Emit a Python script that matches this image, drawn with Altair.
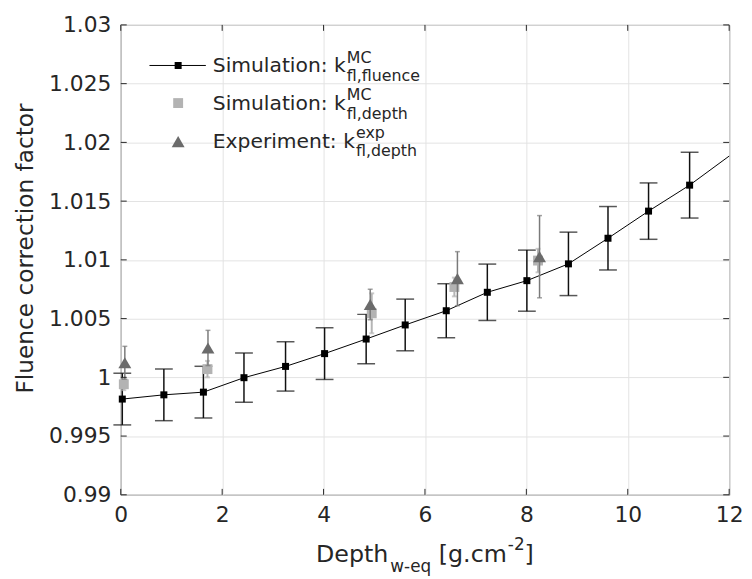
import altair as alt
import pandas as pd

# ---------------- data ----------------
depth_mc = [0.03, 0.85, 1.63, 2.43, 3.25, 4.02, 4.84, 5.61, 6.42, 7.23, 8.01, 8.83, 9.61, 10.41, 11.22, 12.02]
k_fluence = [0.99815, 0.99851, 0.99874, 0.99997, 1.00093, 1.00202, 1.00326, 1.00446, 1.00567,
             1.00724, 1.00823, 1.00966, 1.01184, 1.01415, 1.01636, 1.0189]
k_fluence_err = [0.0022, 0.0022, 0.0022, 0.0021, 0.0021, 0.0022, 0.0021, 0.0022, 0.0023,
                 0.0024, 0.0026, 0.0027, 0.0027, 0.0024, 0.0028, 0.0028]

depth_sim = [0.06, 1.71, 4.95, 6.58, 8.23]
k_depth = [0.99941, 1.00070, 1.00545, 1.00769, 1.00994]
k_depth_err = [0.0005, 0.0007, 0.0017, 0.0008, 0.0010]

depth_exp = [0.08, 1.72, 4.92, 6.64, 8.26]
k_exp = [1.00124, 1.00250, 1.00620, 1.00840, 1.01027]
k_exp_err = [0.0014, 0.0015, 0.0013, 0.0023, 0.0035]

x_ticks = [0, 2, 4, 6, 8, 10, 12]
y_ticks = [0.99, 0.995, 1.0, 1.005, 1.01, 1.015, 1.02, 1.025, 1.03]

# ---------------- style ----------------
FONT = "DejaVu Sans"
TXT = "#262626"
W, H = 615, 475

EM = {' ': .318, '[': .390, ']': .390, '.': .318, ',': .318, ':': .337, '-': .361, '2': .636,
      'D': .770, 'E': .632, 'S': .635, 'M': .863, 'C': .698,
      'a': .613, 'c': .550, 'd': .635, 'e': .615, 'f': .352, 'g': .635, 'h': .634, 'i': .278,
      'k': .579, 'l': .278, 'm': .974, 'n': .634, 'o': .612, 'p': .635, 'q': .635, 'r': .411,
      't': .392, 'u': .634, 'w': .818, 'x': .592}


def tw(s, size):
    return sum(EM.get(c, 0.6) for c in s) * size


xs = alt.Scale(domain=[0, 12], nice=False, zero=False)
ys = alt.Scale(domain=[0.99, 1.03], nice=False, zero=False)
xax = alt.Axis(values=x_ticks, title=None, ticks=False, domain=False, grid=True,
               gridColor="#e3e3e3", gridWidth=1, labelFont=FONT, labelFontSize=22,
               labelColor=TXT, labelPadding=10, format="d", labelFlush=False,
               labelOverlap=False, labelBound=False)
yax = alt.Axis(values=y_ticks, title=None, ticks=False, domain=False, grid=True,
               gridColor="#e3e3e3", gridWidth=1, labelFont=FONT, labelFontSize=22,
               labelColor=TXT, labelPadding=10, format=".3~f", labelFlush=False,
               labelOverlap=False, labelBound=False)

mc = pd.DataFrame({"x": depth_mc, "y": k_fluence,
                   "lo": [v - e for v, e in zip(k_fluence, k_fluence_err)],
                   "hi": [v + e for v, e in zip(k_fluence, k_fluence_err)]})
sim = pd.DataFrame({"x": depth_sim, "y": k_depth,
                    "lo": [v - e for v, e in zip(k_depth, k_depth_err)],
                    "hi": [v + e for v, e in zip(k_depth, k_depth_err)]})
exp = pd.DataFrame({"x": depth_exp, "y": k_exp,
                    "lo": [v - e for v, e in zip(k_exp, k_exp_err)],
                    "hi": [v + e for v, e in zip(k_exp, k_exp_err)]})

X = alt.X("x:Q", scale=xs, axis=xax)
Y = alt.Y("y:Q", scale=ys, axis=yax)


def errbars(df, color, cap, width=1.3):
    base = alt.Chart(df).transform_filter("datum.x <= 12")
    r = base.mark_rule(color=color, strokeWidth=width).encode(
        x=X, y=alt.Y("lo:Q", scale=ys, axis=yax), y2="hi:Q")
    t1 = base.mark_tick(color=color, orient="horizontal", size=cap, thickness=width).encode(
        x=X, y=alt.Y("lo:Q", scale=ys, axis=yax))
    t2 = base.mark_tick(color=color, orient="horizontal", size=cap, thickness=width).encode(
        x=X, y=alt.Y("hi:Q", scale=ys, axis=yax))
    return [r, t1, t2]


layers = []
# black simulation (fluence)
layers += errbars(mc, "#111111", 18, 1.5)
layers.append(alt.Chart(mc).mark_line(color="#000000", strokeWidth=1, clip=True).encode(x=X, y=Y))
layers.append(alt.Chart(mc).transform_filter("datum.x <= 12").mark_point(
    shape="square", filled=True, color="#000000", size=50, opacity=1).encode(x=X, y=Y))
# grey squares
layers += errbars(sim, "#b5b5b5", 5, 2)
layers.append(alt.Chart(sim).mark_point(shape="square", filled=True, color="#b3b3b3",
                                        size=100, opacity=1).encode(x=X, y=Y))
# dark triangles
layers += errbars(exp, "#7a7a7a", 5, 1.5)
layers.append(alt.Chart(exp).mark_point(shape="triangle-up", filled=True, color="#6b6b6b",
                                        size=170, opacity=1).encode(x=X, y=Y))

# inward ticks on all four sides
ydf = pd.DataFrame({"y": y_ticks})
xdf = pd.DataFrame({"x": x_ticks})
TK = 6
layers.append(alt.Chart(ydf).mark_rule(color=TXT, strokeWidth=1).encode(
    y=Y, x=alt.value(0), x2=alt.value(TK)))
layers.append(alt.Chart(ydf).mark_rule(color=TXT, strokeWidth=1).encode(
    y=Y, x=alt.value(W - TK), x2=alt.value(W)))
layers.append(alt.Chart(xdf).mark_rule(color=TXT, strokeWidth=1).encode(
    x=X, y=alt.value(H - TK), y2=alt.value(H)))
layers.append(alt.Chart(xdf).mark_rule(color=TXT, strokeWidth=1).encode(
    x=X, y=alt.value(0), y2=alt.value(TK)))


def txt(s, x, y, size, align="left", angle=0, color=TXT):
    return alt.Chart(pd.DataFrame({"t": [s]})).mark_text(
        align=align, baseline="alphabetic", font=FONT, fontSize=size, color=color,
        angle=angle).encode(text="t:N", x=alt.value(x), y=alt.value(y))


one = pd.DataFrame({"a": [0]})
# legend
LX = 93
LS, SS = 20.5, 16
# entry 1
layers.append(alt.Chart(one).mark_rule(color="#000000", strokeWidth=1).encode(
    x=alt.value(29), x2=alt.value(86), y=alt.value(41)))
layers.append(alt.Chart(one).mark_point(shape="square", filled=True, color="#000000",
                                        size=50, opacity=1).encode(x=alt.value(58), y=alt.value(41)))
s1 = "Simulation: k"
layers += [txt(s1, LX, 48, LS), txt("MC", LX + tw(s1, LS) + 1, 38, SS),
           txt("fl,fluence", LX + tw(s1, LS) + 1, 57, SS)]
# entry 2
layers.append(alt.Chart(one).mark_point(shape="square", filled=True, color="#b3b3b3",
                                        size=100, opacity=1).encode(x=alt.value(58), y=alt.value(79)))
layers += [txt(s1, LX, 86, LS), txt("MC", LX + tw(s1, LS) + 1, 76, SS),
           txt("fl,depth", LX + tw(s1, LS) + 1, 95, SS)]
# entry 3
layers.append(alt.Chart(one).mark_point(shape="triangle-up", filled=True, color="#6b6b6b",
                                        size=170, opacity=1).encode(x=alt.value(58), y=alt.value(118)))
s3 = "Experiment: k"
layers += [txt(s3, LX, 124, LS), txt("exp", LX + tw(s3, LS) + 1, 114, SS),
           txt("fl,depth", LX + tw(s3, LS) + 1, 133, SS)]

# x title with sub/superscripts: (text, size, baseline shift, extra gap before)
TS, TSS = 24, 17
parts = [("Depth", TS, 0, 0), ("w-eq", TSS, 10, 2), ("[g.cm", TS, 0, tw(" ", TS)),
         ("-2", TSS, -12, 1), ("]", TS, 0, 0)]
total = sum(tw(p, s) + g for p, s, _, g in parts)
cx = W / 2 - total / 2
for p, s, dy, g in parts:
    cx += g
    layers.append(txt(p, cx, 543 + dy, s))
    cx += tw(p, s)

# y title
layers.append(txt("Fluence correction factor", -89, 226, 23.5, align="center", angle=270))

chart = alt.layer(*layers).properties(
    width=W, height=H,
    autosize=alt.AutoSizeParams(type="none"),
    padding={"left": 114, "top": 14, "right": 15, "bottom": 82},
).configure_view(stroke=TXT, strokeWidth=1)

chart.save("out.html", embed_options={"renderer": "svg", "actions": False})
